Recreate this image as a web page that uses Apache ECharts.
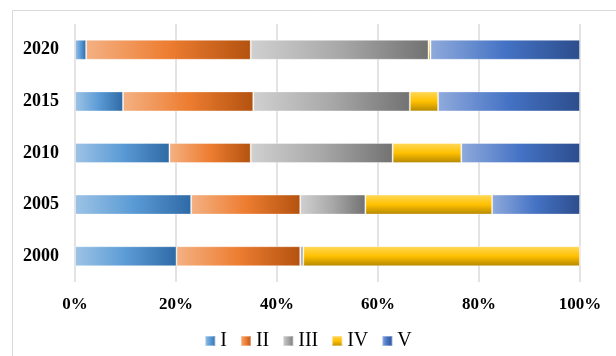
<!DOCTYPE html>
<html>
<head>
<meta charset="utf-8">
<script src="https://cdn.jsdelivr.net/npm/echarts@6/dist/echarts.min.js"></script>
<style>
  html, body { margin: 0; padding: 0; background: #fff; }
  #main { width: 616px; height: 356px; }
</style>
</head>
<body>
<div id="main"></div>
<script>
// categories bottom -> top
var years = ['2000', '2005', '2010', '2015', '2020'];
var seriesNames = ['I', 'II', 'III', 'IV', 'V'];
// shares in %
var valI   = [20.1, 23.0, 18.7, 9.5, 2.2];
var valII  = [24.5, 21.6, 16.1, 25.8, 32.6];
var valIII = [0.6, 12.9, 28.1, 31.0, 35.2];
var valIV  = [54.8, 25.1, 13.6, 5.6, 0.4];
var valV   = [0, 17.4, 23.5, 28.1, 29.6];
var xTicks = [0, 20, 40, 60, 80, 100];

var allValues = [valI, valII, valIII, valIV, valV];

// office-like gradient fills
function hGrad(c1, c2, c3) {
    return new echarts.graphic.LinearGradient(0, 0, 1, 0, [
        { offset: 0, color: c1 },
        { offset: 0.5, color: c2 },
        { offset: 1, color: c3 }
    ]);
}
function vGrad(c1, c2, c3) {
    return new echarts.graphic.LinearGradient(0, 0, 0, 1, [
        { offset: 0, color: c1 },
        { offset: 0.5, color: c2 },
        { offset: 1, color: c3 }
    ]);
}
var fills = [
    hGrad('#9dc3e6', '#5b9bd5', '#2e6aa6'),
    hGrad('#f4b183', '#ed7d31', '#b3520f'),
    hGrad('#d0d0d0', '#a8a8a8', '#727272'),
    vGrad('#ffd95a', '#ffc000', '#b38700'),
    hGrad('#8faadc', '#4472c4', '#2d4d8c')
];

var myChart = echarts.init(document.getElementById('main'));

var series = [];
for (var i = 0; i < seriesNames.length; i++) {
    series.push({
        name: seriesNames[i],
        type: 'bar',
        stack: 'total',
        barWidth: 20,
        itemStyle: {
            color: fills[i],
            borderColor: 'rgba(255,255,255,0.35)',
            borderWidth: 1
        },
        data: allValues[i]
    });
}

var option = {
    animation: false,
    backgroundColor: '#fff',
    textStyle: { fontFamily: 'Liberation Serif' },
    graphic: [{
        type: 'rect',
        shape: { x: 12.5, y: 10.5, width: 620, height: 360 },
        style: { fill: 'none', stroke: '#d9d9d9', lineWidth: 1 },
        z: -1
    }],
    grid: { left: 75, right: 36, top: 24, bottom: 74 },
    legend: {
        bottom: 0,
        left: 'center',
        itemWidth: 10,
        itemHeight: 10,
        itemGap: 13,
        icon: 'rect',
        textStyle: { fontFamily: 'Liberation Serif', fontSize: 20, color: '#000' },
        data: seriesNames
    },
    xAxis: {
        type: 'value',
        min: 0,
        max: 100,
        interval: 20,
        axisLine: { show: false },
        axisTick: { show: false },
        axisLabel: {
            margin: 14,
            fontFamily: 'Liberation Serif',
            fontWeight: 'bold',
            fontSize: 17,
            color: '#000',
            formatter: function (v) { return xTicks.indexOf(v) >= 0 ? v + '%' : ''; }
        },
        splitLine: { lineStyle: { color: '#dadada', width: 1.5 } }
    },
    yAxis: {
        type: 'category',
        data: years,
        axisLine: { show: false },
        axisTick: { show: false },
        axisLabel: {
            margin: 16,
            fontFamily: 'Liberation Serif',
            fontWeight: 'bold',
            fontSize: 18,
            color: '#000'
        }
    },
    series: series
};

myChart.setOption(option);
</script>
</body>
</html>
